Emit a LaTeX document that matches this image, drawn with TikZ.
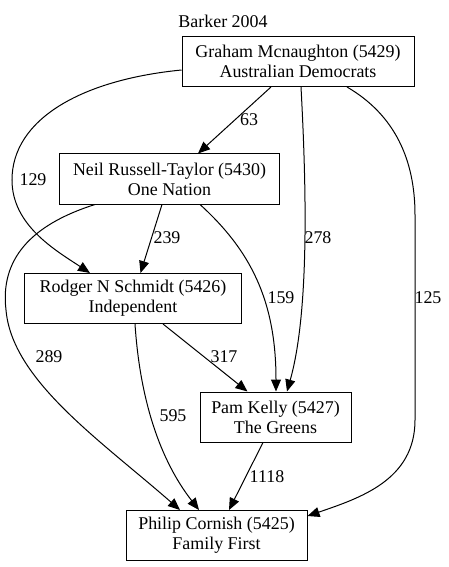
\documentclass[tikz,border=0pt]{standalone}
\usepackage{fontspec}
\setmainfont{Liberation Serif}
\usetikzlibrary{arrows.meta}
\begin{document}
\begin{tikzpicture}[x=1bp,y=-1bp,
  box/.style={draw, line width=1bp, inner sep=0pt, align=center, minimum height=50bp, font=\fontsize{18}{20}\selectfont},
  lab/.style={inner sep=0pt, font=\fontsize{18}{20}\selectfont},
  edge/.style={line width=1bp, -{Triangle[length=12bp,width=10bp]}}]
\useasboundingbox (0,0) rectangle (449,567);
\node[lab] (title) at (223,21) {Barker 2004};
\node[box, minimum width=232bp] (g) at (298,61.5) {Graham Mcnaughton (5429)\\Australian Democrats};
\node[box, minimum width=219bp] (n) at (169.5,179) {Neil Russell-Taylor (5430)\\One Nation};
\node[box, minimum width=216bp] (r) at (133,298.5) {Rodger N Schmidt (5426)\\Independent};
\node[box, minimum width=151bp] (p) at (275.5,417) {Pam Kelly (5427)\\The Greens};
\node[box, minimum width=181bp] (c) at (216.5,535.5) {Philip Cornish (5425)\\Family First};

\draw[edge] ([xshift=-27bp]g.south) -- ([xshift=28.5bp]n.north);
\draw[edge] ([yshift=-8.5bp]g.west) .. controls (80,80) and (12,120) .. (12,180) .. controls (12,225) and (55,250) .. ([xshift=-43bp]r.north);
\draw[edge] ([xshift=3bp]g.south) .. controls (306,180) and (310,310) .. ([xshift=11.5bp]p.north);
\draw[edge] ([xshift=49bp]g.south) .. controls (395,115) and (415,160) .. (415,215) -- (415,420) .. controls (415,480) and (360,498) .. ([yshift=19.5bp]c.east);
\draw[edge] ([xshift=-7.5bp]n.south) -- ([xshift=7.5bp]r.north);
\draw[edge] ([xshift=30.5bp]n.south) .. controls (250,250) and (276,300) .. ([xshift=0.5bp]p.north);
\draw[edge] ([xshift=-74.5bp]n.south) .. controls (30,225) and (0,260) .. (6,310) .. controls (12,380) and (100,440) .. ([xshift=-36.5bp]c.north);
\draw[edge] ([xshift=30bp]r.south) -- ([xshift=-28bp]p.north);
\draw[edge] ([xshift=2bp]r.south) .. controls (140,400) and (160,460) .. ([xshift=-17.5bp]c.north);
\draw[edge] ([xshift=-12.5bp]p.south) -- ([xshift=12.5bp]c.north);

\node[lab] (l63) at (249,120) {63};
\node[lab] (l129) at (33,180) {129};
\node[lab] (l278) at (318,238) {278};
\node[lab] (l125) at (428,298) {125};
\node[lab] (l239) at (167,238) {239};
\node[lab] (l159) at (281,298) {159};
\node[lab] (l289) at (49,357) {289};
\node[lab] (l317) at (224,357) {317};
\node[lab] (l595) at (173,416) {595};
\node[lab] (l1118) at (267,477) {1118};
\end{tikzpicture}
\end{document}
